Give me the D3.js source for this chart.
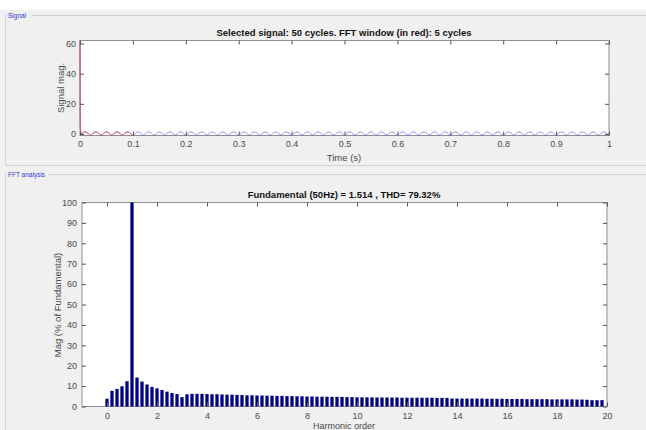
<html>
<head>
<script src="https://d3js.org/d3.v7.min.js"></script>
<style>
  body { margin: 0; background: #f0f0f0; }
  text { font-family: "Liberation Sans", Arial, sans-serif; }
</style>
</head>
<body>
<svg width="646" height="430"></svg>
<script>

// FFT magnitudes (% of fundamental), one bar every 0.2 harmonic, 0 .. 19.8
var binStep = 0.2;
var fftMag = [3.8,7.7,8.6,9.9,12.4,100,14.2,12.2,10.8,9.6,
              8.9,8.1,7.3,6.6,6.1,4.6,6.0,6.2,6.2,6.2,
              6.1,6.0,6.0,5.9,5.8,5.8,5.7,5.6,5.5,5.5,
              5.4,5.4,5.3,5.3,5.2,5.2,5.1,5.1,5.0,5.0,
              4.9,4.9,4.8,4.8,4.8,4.7,4.7,4.7,4.6,4.6,
              4.5,4.5,4.5,4.5,4.4,4.4,4.4,4.4,4.4,4.3,
              4.3,4.3,4.3,4.3,4.3,4.3,4.2,4.2,4.2,3.9,
              3.9,3.9,3.9,3.9,3.9,3.9,3.8,3.8,3.8,3.8,
              3.7,3.7,3.7,3.7,3.6,3.6,3.6,3.6,3.6,3.5,
              3.5,3.5,3.5,3.5,3.4,3.4,3.3,3.1,3.1,3.1];

// signal: start transient, then one period repeated for 50 cycles
var transientT = [0, 0.0006, 0.003];
var transientV = [62, 4.5, -0.6];
var period = 0.02;
var cycles = 50;
var cycleShape = [-0.8, -0.6, -0.1, 0.5, 1.0, 1.3, 1.4, 1.3, 1.0, 0.5, -0.1, -0.6, -0.8];
var windowEnd = 0.1;

var topXTicks = [0,0.1,0.2,0.3,0.4,0.5,0.6,0.7,0.8,0.9,1];
var topYTicks = [0,20,40,60];
var botXTicks = [0,2,4,6,8,10,12,14,16,18,20];
var botYTicks = [0,10,20,30,40,50,60,70,80,90,100];

var svg = d3.select("svg");
var boxColor = "#8f8f8f", tickText = "#4a4a4a";

// white strip at top
svg.append("rect").attr("x", 0).attr("y", 0).attr("width", 646).attr("height", 10).attr("fill", "#fff");

// group boxes
function groupBox(y0, y1, label, labelW) {
  var g = svg.append("g").attr("stroke", "#d2d2d2").attr("fill", "none");
  g.append("path").attr("d", "M5.5," + y1 + "V" + y0 + "H7");
  g.append("path").attr("d", "M" + (8 + labelW) + "," + y0 + "H646");
  if (y1 < 430) g.append("path").attr("d", "M5.5," + y1 + "H646");
  svg.append("text").attr("x", 8).attr("y", y0 + 2.5).attr("font-size", 6.5)
    .attr("fill", "#3a3ad0").text(label);
}
groupBox(15.5, 165.5, "Signal", 24);
groupBox(174.5, 431, "FFT analysis", 40);

// ---- top plot ----
var x1 = d3.scaleLinear().domain([0, 1]).range([80, 609]);
var y1 = d3.scaleLinear().domain([-1, 62]).range([135.5, 40.5]);

svg.append("rect").attr("x", 80).attr("y", 40.5).attr("width", 529).attr("height", 95)
  .attr("fill", "#fff").attr("stroke", boxColor);

var pts = transientT.map(function(t, i) { return [t, transientV[i]]; });
for (var k = 0; k < cycles; k++) {
  cycleShape.forEach(function(v, j) {
    var t = k * period + j * period / (cycleShape.length - 1);
    if (t > transientT[transientT.length - 1] && (j > 0 || k == 0)) pts.push([t, v]);
  });
}
var line = d3.line().curve(d3.curveMonotoneX)
  .x(function(d) { return x1(d[0]); }).y(function(d) { return y1(d[1]); });
svg.append("path").datum(pts).attr("d", line).attr("fill", "none")
  .attr("stroke", "#5a5af5").attr("stroke-width", 0.7);
svg.append("path").datum(pts.filter(function(d) { return d[0] <= windowEnd + 1e-9; }))
  .attr("d", line).attr("fill", "none").attr("stroke", "#f04848").attr("stroke-width", 0.8);

function styleAxis(g) {
  g.select(".domain").remove();
  g.selectAll("line").attr("stroke", "#555");
  g.selectAll("text").attr("fill", tickText).attr("font-size", 9);
}
svg.append("g").attr("transform", "translate(0,135.5)")
  .call(d3.axisBottom(x1).tickValues(topXTicks).tickSize(-4).tickPadding(5).tickFormat(d3.format("")))
  .call(styleAxis);
svg.append("g").attr("transform", "translate(0,40.5)")
  .call(d3.axisTop(x1).tickValues(topXTicks).tickSize(-4).tickFormat(""))
  .call(styleAxis);
svg.append("g").attr("transform", "translate(80,0)")
  .call(d3.axisLeft(y1).tickValues(topYTicks).tickSize(-4).tickPadding(4))
  .call(styleAxis);
svg.append("g").attr("transform", "translate(609,0)")
  .call(d3.axisRight(y1).tickValues(topYTicks).tickSize(-4).tickFormat(""))
  .call(styleAxis);

svg.append("text").attr("x", 344).attr("y", 36).attr("text-anchor", "middle")
  .attr("font-size", 9.5).attr("font-weight", "bold").attr("fill", "#111")
  .text("Selected signal: 50 cycles. FFT window (in red): 5 cycles");
svg.append("text").attr("x", 344).attr("y", 161).attr("text-anchor", "middle")
  .attr("font-size", 9.5).attr("fill", tickText).text("Time (s)");
svg.append("text").attr("transform", "translate(64,88) rotate(-90)").attr("text-anchor", "middle")
  .attr("font-size", 9.5).attr("fill", tickText).text("Signal mag.");

// ---- bottom plot ----
var x2 = d3.scaleLinear().domain([-1, 20]).range([82, 607]);
var y2 = d3.scaleLinear().domain([0, 100]).range([406.5, 202.5]);

svg.append("rect").attr("x", 82).attr("y", 202.5).attr("width", 525).attr("height", 204)
  .attr("fill", "#fff").attr("stroke", boxColor);

var barW = 0.13;
svg.append("g").selectAll("rect").data(fftMag).join("rect")
  .attr("x", function(d, i) { return x2(i * binStep - barW / 2); })
  .attr("y", function(d) { return y2(d); })
  .attr("width", x2(barW) - x2(0))
  .attr("height", function(d) { return y2(0) - y2(d); })
  .attr("fill", "#000080");

svg.append("g").attr("transform", "translate(0,406.5)")
  .call(d3.axisBottom(x2).tickValues(botXTicks).tickSize(-4).tickPadding(6))
  .call(styleAxis);
svg.append("g").attr("transform", "translate(0,202.5)")
  .call(d3.axisTop(x2).tickValues(botXTicks).tickSize(-4).tickFormat(""))
  .call(styleAxis);
svg.append("g").attr("transform", "translate(82,0)")
  .call(d3.axisLeft(y2).tickValues(botYTicks).tickSize(-4).tickPadding(5))
  .call(styleAxis);
svg.append("g").attr("transform", "translate(607,0)")
  .call(d3.axisRight(y2).tickValues(botYTicks).tickSize(-4).tickFormat(""))
  .call(styleAxis);

svg.append("text").attr("x", 344).attr("y", 198).attr("text-anchor", "middle")
  .attr("font-size", 9.5).attr("font-weight", "bold").attr("fill", "#111")
  .text("Fundamental (50Hz) = 1.514 , THD= 79.32%");
svg.append("text").attr("x", 344).attr("y", 429).attr("text-anchor", "middle")
  .attr("font-size", 9).attr("fill", tickText).text("Harmonic order");
svg.append("text").attr("transform", "translate(61,305) rotate(-90)").attr("text-anchor", "middle")
  .attr("font-size", 9.5).attr("fill", tickText).text("Mag (% of Fundamental)");

</script>
</body>
</html>
